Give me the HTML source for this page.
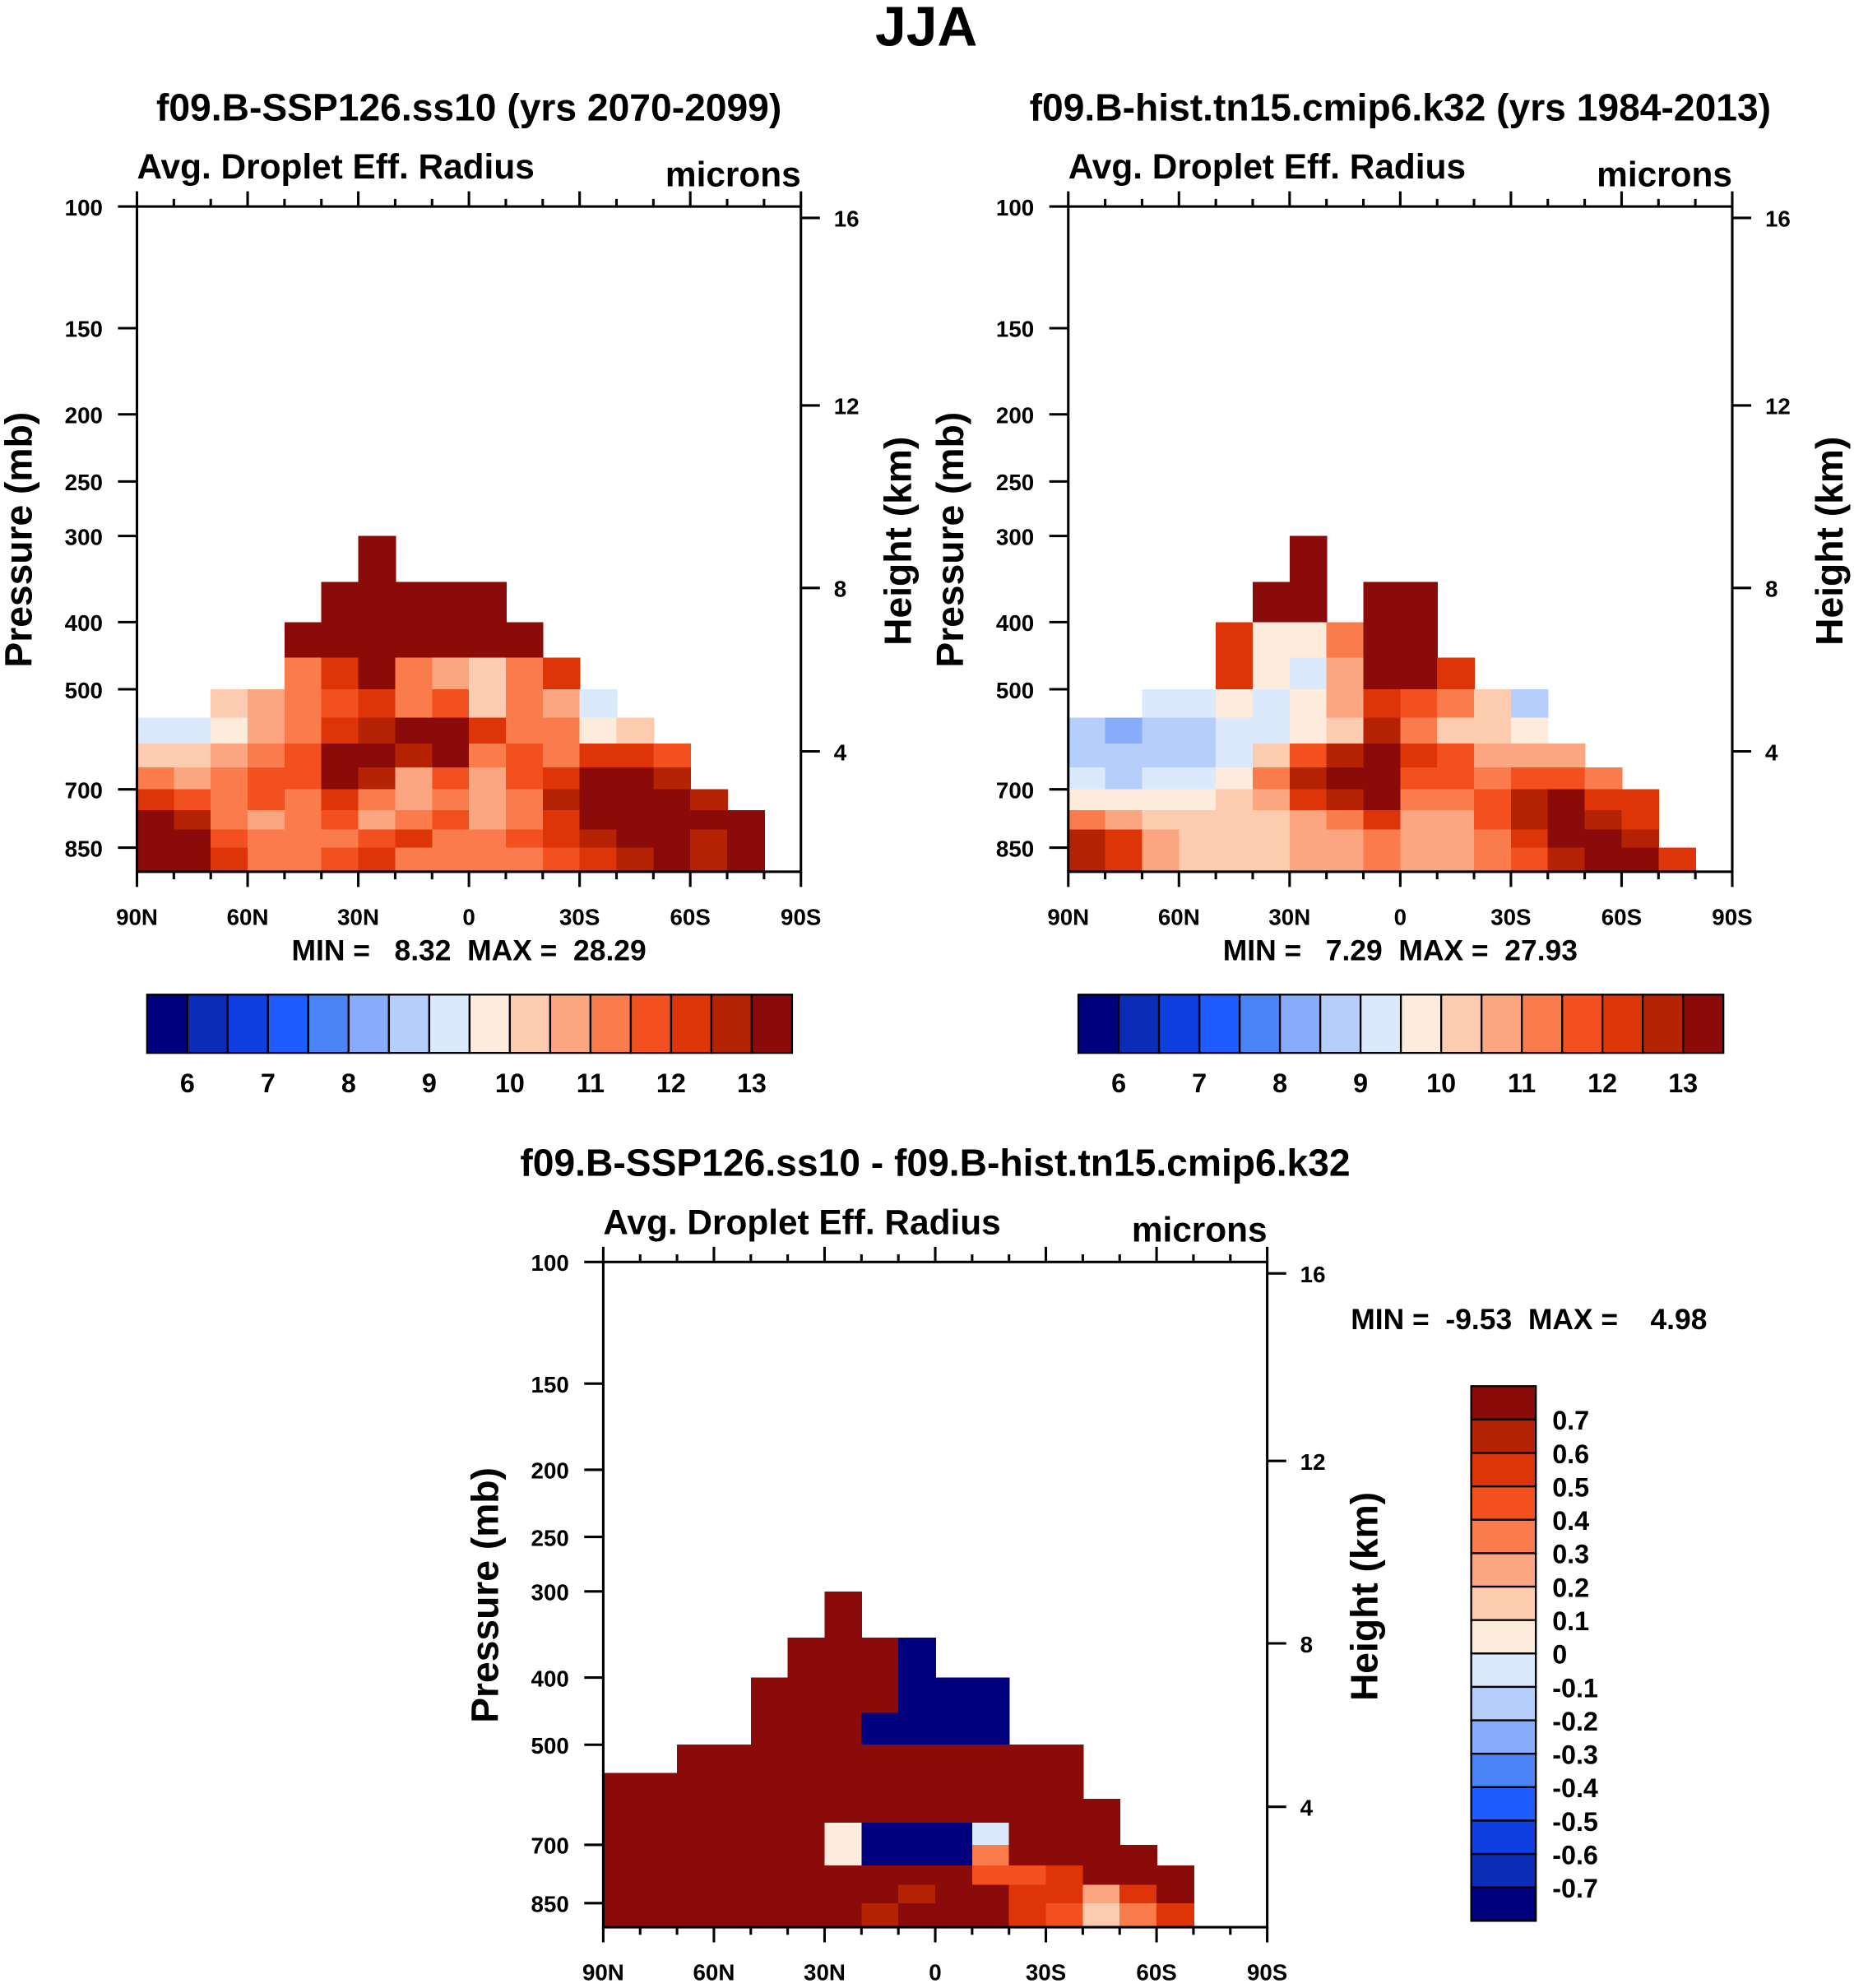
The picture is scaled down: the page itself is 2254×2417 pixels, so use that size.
<!DOCTYPE html>
<html><head><meta charset="utf-8"><style>
html,body{margin:0;padding:0;background:#fff}
svg{display:block}
text{font-family:"Liberation Sans",Arial,sans-serif;font-weight:bold;fill:#000;white-space:pre}
</style></head><body>
<svg id="fig" width="2254" height="2417" viewBox="0 0 1463 1569" xmlns="http://www.w3.org/2000/svg">
<rect width="1463" height="1569" fill="#fff"/>
<text x="731" y="36" font-size="44" text-anchor="middle">JJA</text>
</svg>
<script>
const colors=["#00007f","#0a2cb8","#0f3fe0","#1f5cff","#4a84f5","#87acf9","#b5cefb","#daeafc","#fdecdc","#fccbb0","#fba680","#fa7b4c","#f2501f","#de3508","#b52304","#8b0a0a"];
const pTicks=[100,150,200,250,300,400,500,700,850];
const hTicks=[16,12,8,4];
const latTicks=[90,60,30,0,-30,-60,-90];
const latLabels=["90N","60N","30N","0","30S","60S","90S"];
const pEdges=[300,350,400,450,500,550,600,650,700,750,800,850,925];
const latEdges=[90,80,70,60,50,40,30,20,10,0,-10,-20,-30,-40,-50,-60,-70,-80,-90];
const cbar1Labels=["6","7","8","9","10","11","12","13"];
const cbar3Labels=["0.7","0.6","0.5","0.4","0.3","0.2","0.1","0","-0.1","-0.2","-0.3","-0.4","-0.5","-0.6","-0.7"];
const n=null;
const field1=[
[n,n,n,n,n,n,14,n,n,n,n,n,n,n,n,n,n,n],
[n,n,n,n,n,14,14,14,14,14,n,n,n,n,n,n,n,n],
[n,n,n,n,14,14,14,14,14,14,14,n,n,n,n,n,n,n],
[n,n,n,n,11,12,13,11,10.5,10,11,12,n,n,n,n,n,n],
[n,n,10,10.5,11,11.5,12,11,11.5,10,11,10.5,9,n,n,n,n,n],
[9,9,9.5,10.5,11,12,12.5,13,14,12,11,11,9.5,10,n,n,n,n],
[10,10,10.5,11,11.5,13,13.5,12.5,13,11,11.5,11,12,12,11.5,n,n,n],
[11,10.5,11,11.5,11.5,13.5,12.5,10.5,11.5,10.5,11.5,12,14,14,12.5,n,n,n],
[12,11.5,11,11.5,11,12,11,10.5,11,10.5,11,12.5,14,14,14,12.5,n,n],
[13,12.5,11,10.5,11,11.5,10.5,11,11.5,10.5,11,12,13,14,14,13,13,n],
[13.5,13,11.5,11,11,11,11.5,12,11,11,11.5,12,12.5,14,14,12.5,13.5,n],
[14,13.5,12,11,11,11.5,12,11,11,11,11,11.5,12,12.5,13,12.5,14,n]];
const field2=[
[n,n,n,n,n,n,14,n,n,n,n,n,n,n,n,n,n,n],
[n,n,n,n,n,14,14,n,14,14,n,n,n,n,n,n,n,n],
[n,n,n,n,12,9.5,9.5,11,14,14,n,n,n,n,n,n,n,n],
[n,n,n,n,12,9.5,9,10.5,13,14,12,n,n,n,n,n,n,n],
[n,n,9,9,9.5,9,9.5,10.5,12,11.5,11,10,8.5,n,n,n,n,n],
[8.5,8,8.5,8.5,9,9,9.5,10,12.5,11,10,10,9.5,n,n,n,n,n],
[8.5,8.5,8.5,8.5,9,10,11.5,12.5,13.5,12,11.5,10.5,10.5,10.5,n,n,n,n],
[9,8.5,9,9,9.5,11,12.5,13,14,11.5,11.5,11,11.5,11.5,11,n,n,n],
[9.5,9.5,9.5,9.5,10,10.5,12,12.5,13.5,11,11,11.5,12.5,13,12,12,n,n],
[11,10.5,10,10,10,10,10.5,11,12,10.5,10.5,11.5,12.5,13.5,12.5,12,n,n],
[12.5,12,10.5,10,10,10,10.5,10.5,11,10.5,10.5,11,12,13.5,13.5,12.5,n,n],
[12.5,12,10.5,10,10,10,10.5,10.5,11,10.5,10.5,11,11.5,12.5,13,13,12,n]];
const field3=[
[n,n,n,n,n,n,1,n,n,n,n,n,n,n,n,n,n,n],
[n,n,n,n,n,1,1,1,-1,n,n,n,n,n,n,n,n,n],
[n,n,n,n,1,1,1,1,-1,-1,-1,n,n,n,n,n,n,n],
[n,n,n,n,1,1,1,-1,-1,-1,-1,n,n,n,n,n,n,n],
[n,n,1,1,1,1,1,1,1,1,1,1,1,n,n,n,n,n],
[1,1,1,1,1,1,1,1,1,1,1,1,1,n,n,n,n,n],
[1,1,1,1,1,1,1,1,1,1,1,1,1,1,n,n,n,n],
[1,1,1,1,1,1,0.05,-1,-1,-1,-0.05,1,1,1,n,n,n,n],
[1,1,1,1,1,1,0.05,-1,-1,-1,0.3,1,1,1,1,n,n,n],
[1,1,1,1,1,1,1,1,1,1,0.4,0.4,0.5,1,1,1,n,n],
[1,1,1,1,1,1,1,1,0.6,1,1,0.5,0.5,0.2,0.5,1,n,n],
[1,1,1,1,1,1,1,0.6,1,1,1,0.5,0.4,0.1,0.3,0.5,n,n]];

const NS="http://www.w3.org/2000/svg";
const svg=document.getElementById('fig');
function mk(tag,attrs,parent,txt){const e=document.createElementNS(NS,tag);for(const k in attrs)e.setAttribute(k,attrs[k]);if(txt!==undefined)e.textContent=txt;(parent||svg).appendChild(e);return e;}
const PY=[0,96,164,217,260,328,381,460,506,525];
const PP=[100,150,200,250,300,400,500,700,850,925];
const HY={16:9,12:157,8:301,4:430};
function yOffP(p){for(let i=0;i<PP.length-1;i++){if(p<=PP[i+1]){const t=Math.log(p/PP[i])/Math.log(PP[i+1]/PP[i]);return PY[i]+t*(PY[i+1]-PY[i]);}}return 525;}

function panel(x0,y0,field,idxFn,title,name,mm){
  const W=524,H=525;
  const xs=lat=>x0+(90-lat)/180*W;
  const ys=p=>y0+yOffP(p);
  const g=mk('g',{});
  
  
  const t=mk('text',{x:x0+W/2,y:y0-68,'font-size':30,'text-anchor':'middle'},g,title);
  
  const a=mk('text',{x:x0,y:y0-22,'font-size':27.5},g,'Avg. Droplet Eff. Radius');
  
  const u=mk('text',{x:x0+W,y:y0-16,'font-size':27.5,'text-anchor':'end'},g,'microns');
  
  const cells=mk('g',{'shape-rendering':'crispEdges'},g);
  for(let r=0;r<field.length;r++)for(let c=0;c<field[r].length;c++){
    const v=field[r][c]; if(v===null)continue;
    const xa=xs(latEdges[c]),xb=xs(latEdges[c+1]),ya=ys(pEdges[r]),yb=ys(pEdges[r+1]);
    const rc=mk('rect',{x:xa,y:ya,width:xb-xa+0.6,height:yb-ya+0.6,fill:colors[idxFn(v)]},cells);
    
    
  }
  const fr=mk('rect',{x:x0,y:y0,width:W,height:H,fill:'none',stroke:'#000','stroke-width':2},g);
  
  for(let lat=90;lat>=-90;lat-=10){const X=xs(lat);const L=(lat%30===0)?12:6;
    mk('line',{x1:X,y1:y0,x2:X,y2:y0-L,stroke:'#000','stroke-width':2},g);
    mk('line',{x1:X,y1:y0+H,x2:X,y2:y0+H+L,stroke:'#000','stroke-width':2},g);}
  latTicks.forEach((lat,i)=>{const tl=mk('text',{x:xs(lat),y:y0+H+42,'font-size':18,'text-anchor':'middle'},g,latLabels[i]);
    });
  pTicks.forEach(p=>{const Y=ys(p);mk('line',{x1:x0,y1:Y,x2:x0-15,y2:Y,stroke:'#000','stroke-width':2},g);
    const tl=mk('text',{x:x0-27,y:Y+7,'font-size':18,'text-anchor':'end'},g,String(p));
    });
  hTicks.forEach(h=>{const Y=y0+HY[h];mk('line',{x1:x0+W,y1:Y,x2:x0+W+15,y2:Y,stroke:'#000','stroke-width':2},g);
    const tl=mk('text',{x:x0+W+26,y:Y+7,'font-size':18},g,String(h));
    });
  const py=mk('text',{x:0,y:0,'font-size':30,'text-anchor':'middle',transform:`translate(${x0-83},${y0+263}) rotate(-90)`},g,'Pressure (mb)');
  
  const hy=mk('text',{x:0,y:0,'font-size':30,'text-anchor':'middle',transform:`translate(${x0+W+87},${y0+264}) rotate(-90)`},g,'Height (km)');
  
  if(mm){const m=mk('text',{x:x0+W/2,y:y0+H+70,'font-size':23,'text-anchor':'middle'},g,mm);
    }
}
const idx1=v=>Math.max(0,Math.min(15,Math.floor((v-5.5)/0.5)));
const idx3=v=>Math.max(0,Math.min(15,Math.floor((v+0.8)/0.1+1e-6)));
panel(108,163,field1,idx1,'f09.B-SSP126.ss10 (yrs 2070-2099)','panel-ssp126','MIN =   8.32  MAX =  28.29');
panel(843,163,field2,idx1,'f09.B-hist.tn15.cmip6.k32 (yrs 1984-2013)','panel-hist','MIN =   7.29  MAX =  27.93');
panel(476,996,field3,idx3,'f09.B-SSP126.ss10 - f09.B-hist.tn15.cmip6.k32','panel-difference',null);
const mm3=mk('text',{x:1066,y:1049,'font-size':23},svg,'MIN =  -9.53  MAX =    4.98');


function hbar(x0,y0,name){const w=509/16;const g=mk('g',{});
  
  colors.forEach((c,i)=>{const r=mk('rect',{x:x0+i*w,y:y0,width:w,height:46,fill:c,stroke:'#000','stroke-width':1.5},g);
    });
  cbar1Labels.forEach((l,i)=>{const t=mk('text',{x:x0+(2*i+1)*w,y:y0+77,'font-size':21,'text-anchor':'middle'},g,l);
    });}
hbar(116,785,'colorbar-ssp126');hbar(851,785,'colorbar-hist');
(function(){const x0=1161,y0=1094,h=422/16;const g=mk('g',{});
  
  colors.slice().reverse().forEach((c,i)=>{const r=mk('rect',{x:x0,y:y0+i*h,width:51,height:h,fill:c,stroke:'#000','stroke-width':1.5},g);
    });
  cbar3Labels.forEach((l,i)=>{const t=mk('text',{x:x0+64,y:y0+(i+1)*h+8,'font-size':21},g,l);
    });})();
</script>
</body></html>
